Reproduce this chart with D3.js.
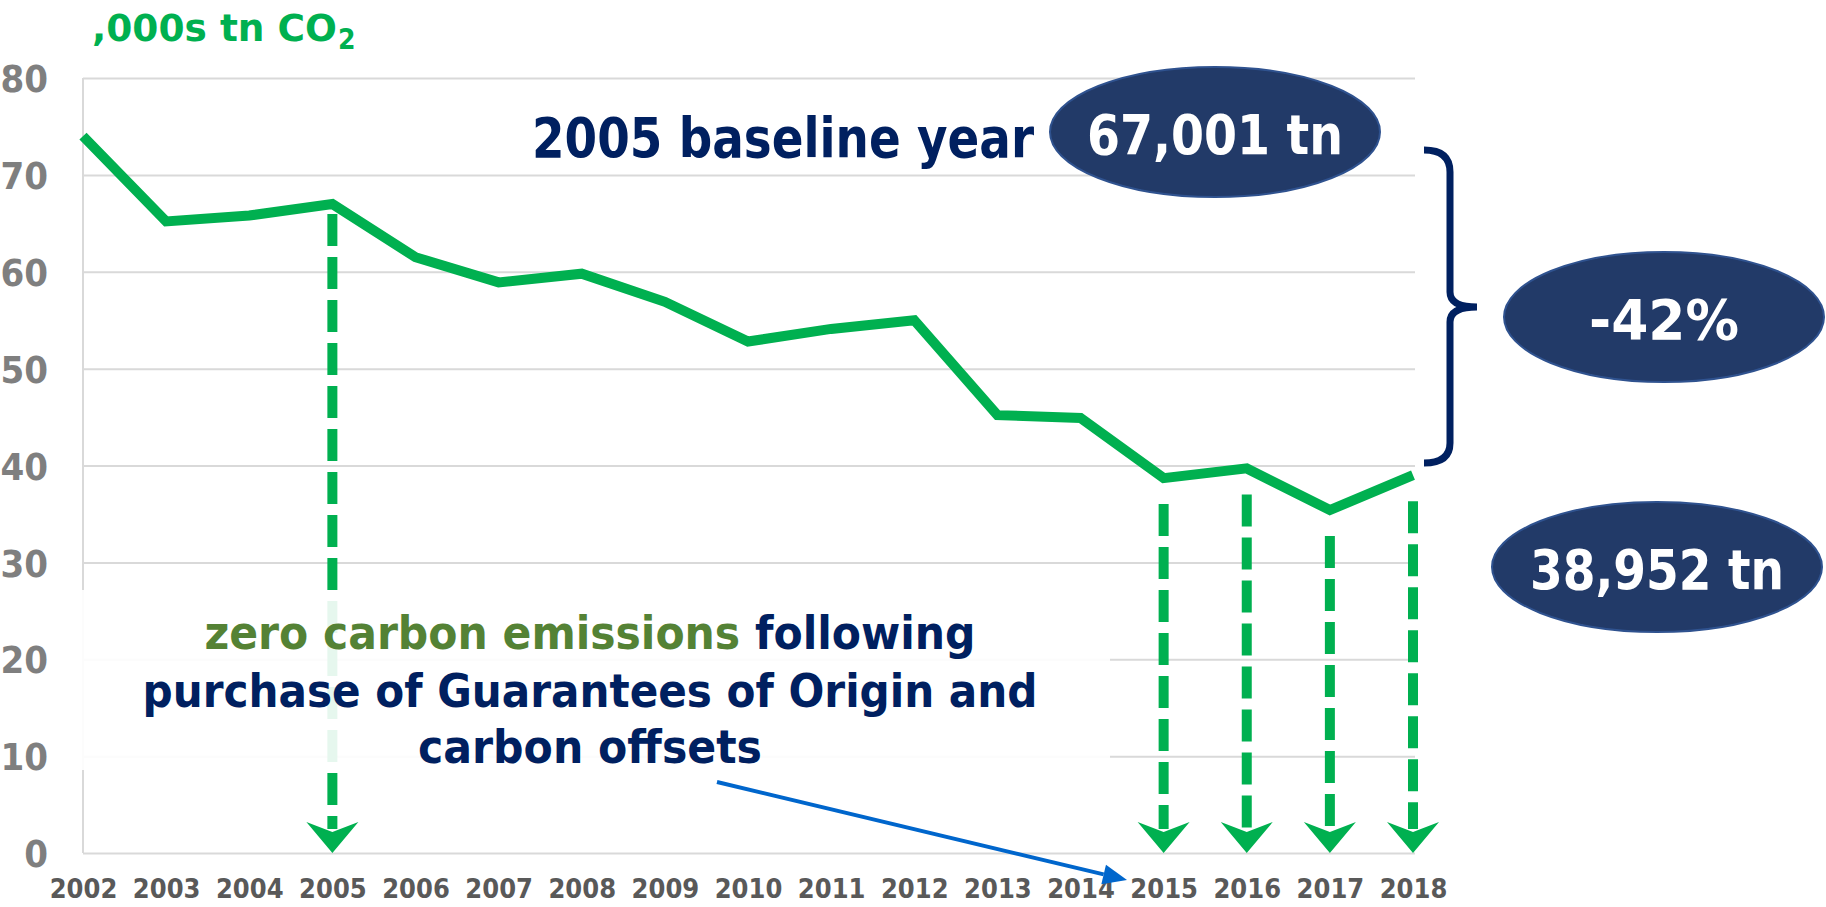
<!doctype html>
<html>
<head>
<meta charset="utf-8">
<style>
  body { margin: 0; background: #fff; }
  svg text { font-family: "DejaVu Sans Condensed", "DejaVu Sans", sans-serif; font-stretch: condensed; font-weight: bold; }
</style>
</head>
<body>
<div class="figure"></div>
<script src="https://d3js.org/d3.v7.min.js"></script>
<script>
  // data (,000s tonnes CO2)
  let years = [2002, 2003, 2004, 2005, 2006, 2007, 2008, 2009, 2010, 2011, 2012, 2013, 2014, 2015, 2016, 2017, 2018];
  let emissions = [74.0, 65.2, 65.8, 67.0, 61.5, 58.9, 59.8, 56.9, 52.8, 54.1, 55.0, 45.2, 44.9, 38.7, 39.7, 35.4, 39.0];
  let yTicks = [0, 10, 20, 30, 40, 50, 60, 70, 80];
  let zeroYears = [2005, 2015, 2016, 2017, 2018]; // years with zero carbon arrows
  let noteLines = ["purchase of Guarantees of Origin and", "carbon offsets"];

  let svg = d3.select(".figure")
    .append("svg")
    .attr("width", 1826)
    .attr("height", 907);

  let plotL = 83, plotR = 1415, plotT = 78, plotB = 853;

  let x = d3.scalePoint().domain(years).range([plotL, 1413]);
  let y = d3.scaleLinear().domain([0, 80]).range([plotB, plotT]);

  let GREEN = "#00B050", NAVY = "#002060", ELL = "#223A68";

  // grid + y labels
  let yAxis = svg.append("g")
    .attr("transform", "translate(" + plotL + ",0)")
    .call(d3.axisLeft(y).tickValues(yTicks).tickSize(-(plotR - plotL)).tickPadding(35));
  yAxis.select(".domain").remove();
  yAxis.selectAll("line").attr("stroke", "#D9D9D9").attr("stroke-width", 2);
  yAxis.selectAll("text").attr("fill", "#7F7F7F").style("font-size", "38px").attr("dy", "0.36em");

  svg.append("line")
    .attr("x1", plotL).attr("x2", plotL).attr("y1", y(80)).attr("y2", y(0))
    .attr("stroke", "#D9D9D9").attr("stroke-width", 2);

  // x labels
  let xAxis = svg.append("g")
    .attr("transform", "translate(0," + plotB + ")")
    .call(d3.axisBottom(x).tickSize(0));
  xAxis.select(".domain").remove();
  xAxis.selectAll("text").attr("y", 45).attr("dy", 0)
    .attr("fill", "#595959").style("font-size", "27px");

  // title
  svg.append("text").attr("x", 92).attr("y", 41)
    .attr("fill", GREEN).style("font-size", "38px")
    .attr("textLength", 245).attr("lengthAdjust", "spacingAndGlyphs")
    .text(",000s tn CO");
  svg.append("text").attr("x", 338).attr("y", 49)
    .attr("fill", GREEN).style("font-size", "28px")
    .text("2");

  // emissions line
  svg.append("path")
    .datum(emissions)
    .attr("d", d3.line().x((d, i) => x(years[i])).y(d => y(d)))
    .attr("fill", "none")
    .attr("stroke", GREEN)
    .attr("stroke-width", 10)
    .attr("stroke-linejoin", "miter");

  // dashed arrows down to zero
  zeroYears.forEach(yr => {
    let v = emissions[years.indexOf(yr)];
    let ax = x(yr);
    let y1 = y(v) + (yr === 2005 ? 10 : 26);
    svg.append("line")
      .attr("x1", ax).attr("x2", ax).attr("y1", y1).attr("y2", y(0) - 24)
      .attr("stroke", GREEN).attr("stroke-width", 10)
      .attr("stroke-dasharray", "32 11");
    svg.append("path")
      .attr("d", "M" + ax + "," + y(0) + " L" + (ax - 26) + "," + (y(0) - 31) +
        " L" + ax + "," + (y(0) - 21) + " L" + (ax + 26) + "," + (y(0) - 31) + "Z")
      .attr("fill", GREEN);
  });

  // translucent box behind the note
  svg.append("rect")
    .attr("x", 55).attr("y", 590).attr("width", 1055).attr("height", 180)
    .attr("fill", "#fff").attr("opacity", 0.9);

  // note text
  let n1 = svg.append("text").attr("x", 590).attr("y", 649)
    .attr("text-anchor", "middle").style("font-size", "46px")
    .attr("textLength", 771).attr("lengthAdjust", "spacingAndGlyphs");
  n1.append("tspan").attr("fill", "#548235").text("zero carbon emissions");
  n1.append("tspan").attr("fill", NAVY).text(" following");
  let noteW = [895, 344];
  noteLines.forEach((t, i) => {
    svg.append("text").attr("x", 590).attr("y", 707 + i * 56)
      .attr("text-anchor", "middle").attr("fill", NAVY).style("font-size", "46px")
      .attr("textLength", noteW[i]).attr("lengthAdjust", "spacingAndGlyphs")
      .text(t);
  });

  // baseline label
  svg.append("text").attr("x", 532).attr("y", 157)
    .attr("fill", NAVY).style("font-size", "55px")
    .attr("textLength", 502).attr("lengthAdjust", "spacingAndGlyphs")
    .text("2005 baseline year");

  // ellipses
  let bubbles = [
    { cx: 1215, cy: 132, rx: 165, text: "67,001 tn", tw: 256 },
    { cx: 1664, cy: 317, rx: 160, text: "-42%", tw: 150 },
    { cx: 1657, cy: 567, rx: 165, text: "38,952 tn", tw: 254 }
  ];
  bubbles.forEach(b => {
    svg.append("ellipse")
      .attr("cx", b.cx).attr("cy", b.cy).attr("rx", b.rx).attr("ry", 65)
      .attr("fill", ELL).attr("stroke", "#2F528F").attr("stroke-width", 2);
    svg.append("text").attr("x", b.cx).attr("y", b.cy + 22)
      .attr("text-anchor", "middle").attr("fill", "#fff").style("font-size", "55px")
      .attr("textLength", b.tw).attr("lengthAdjust", "spacingAndGlyphs")
      .text(b.text);
  });

  // brace
  svg.append("path")
    .attr("d", "M1424,150 Q1450,150 1450,172 L1450,292 Q1450,307 1477,307 Q1450,307 1450,322 L1450,443 Q1450,463 1424,463")
    .attr("fill", "none").attr("stroke", NAVY).attr("stroke-width", 7);

  // blue pointer arrow
  let p0 = [717, 782], p1 = [1127, 880];
  let ang = Math.atan2(p1[1] - p0[1], p1[0] - p0[0]);
  let hl = 24, hw = 10;
  let bx = p1[0] - hl * Math.cos(ang), by = p1[1] - hl * Math.sin(ang);
  svg.append("line")
    .attr("x1", p0[0]).attr("y1", p0[1]).attr("x2", bx).attr("y2", by)
    .attr("stroke", "#0066CC").attr("stroke-width", 4);
  svg.append("path")
    .attr("d", "M" + p1[0] + "," + p1[1] +
      " L" + (bx + hw * Math.sin(ang)) + "," + (by - hw * Math.cos(ang)) +
      " L" + (bx - hw * Math.sin(ang)) + "," + (by + hw * Math.cos(ang)) + "Z")
    .attr("fill", "#0066CC");
</script>
</body>
</html>
